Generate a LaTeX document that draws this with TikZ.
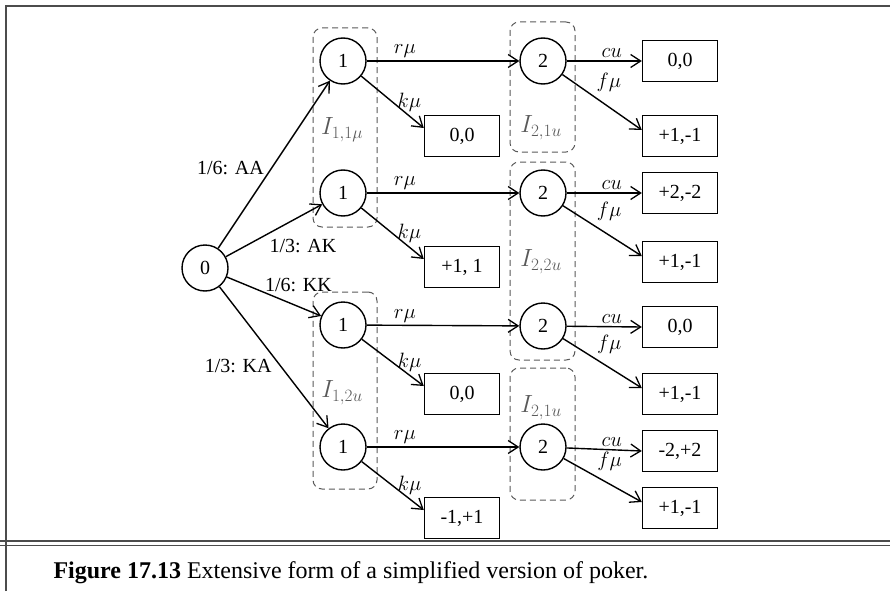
\documentclass[tikz,border=0pt]{standalone}
\usepackage{fontspec}
\setmainfont{Liberation Serif}
\usetikzlibrary{arrows.meta,positioning,calc}

\begin{document}
\begin{tikzpicture}[
  x=1pt, y=-1pt,
  every node/.style={font=\fontsize{20}{22}\selectfont},
  move/.style={circle,draw,line width=1.4pt,minimum size=46pt,inner sep=0pt},
  pay/.style={draw,line width=1.4pt,minimum width=75pt,minimum height=41pt,inner sep=0pt},
  arr/.style={-{Straight Barb[length=10pt,width=13pt,line width=1.3pt]},line width=1.4pt},
  infoset/.style={draw=black!65,dash pattern=on 6pt off 4pt,line width=1pt,rounded corners=9pt,inner sep=0pt},
  setlabel/.style={text=black!65,font=\fontsize{23}{25}\selectfont},
  frame/.style={line width=1.5pt,draw=black!70}
]
\useasboundingbox (0,0) rectangle (890,591);
\draw[frame] (6,591) -- (6,6) -- (890,6);
\draw[frame] (0,541) -- (890,541);
\draw[frame] (0,545.5) -- (890,545.5);

% information sets
\node[infoset,minimum width=64pt,minimum height=199pt] (is11) at (345,127.5) {};
\node[infoset,minimum width=64pt,minimum height=197pt] (is12) at (345,390.5) {};
\node[infoset,minimum width=65pt,minimum height=130pt] (is21) at (542.5,87) {};
\node[infoset,minimum width=65pt,minimum height=198pt] (is22) at (542.5,261) {};
\node[infoset,minimum width=65pt,minimum height=132pt] (is23) at (542.5,434) {};
\node[setlabel] at (342,130) {$I_{1,1\mu}$};
\node[setlabel] at (342,393) {$I_{1,2u}$};
\node[setlabel] at (541,128) {$I_{2,1u}$};
\node[setlabel] at (541,262) {$I_{2,2u}$};
\node[setlabel] at (541,408) {$I_{2,1u}$};

% nodes
\node[move] (n0) at (205,268) {0};
\node[move] (n1a) at (343,61) {1};
\node[move] (n1b) at (343,193) {1};
\node[move] (n1c) at (343,325) {1};
\node[move] (n1d) at (343,447) {1};
\node[move] (n2a) at (543,61) {2};
\node[move] (n2b) at (543,193) {2};
\node[move] (n2c) at (543,326) {2};
\node[move] (n2d) at (543,447) {2};

% payoffs
\node[pay] (k1) at (462,136) {0,0};
\node[pay] (k2) at (462,267) {+1, 1};
\node[pay] (k3) at (462,394) {0,0};
\node[pay] (k4) at (462,518) {-1,+1};
\node[pay] (c1) at (680,61) {0,0};
\node[pay] (f1) at (680,136) {+1,-1};
\node[pay] (c2) at (680,193) {+2,-2};
\node[pay] (f2) at (680,262) {+1,-1};
\node[pay] (c3) at (680,327) {0,0};
\node[pay] (f3) at (680,394) {+1,-1};
\node[pay] (c4) at (680,451) {-2,+2};
\node[pay] (f4) at (680,508) {+1,-1};

% chance moves
\draw[arr] (n0) -- node[pos=0.48,left=4pt] {1/6: AA} (n1a);
\draw[arr] (n0) -- node[pos=0.8,below=20pt] {1/3: AK} (n1b);
\draw[arr] (n0) -- node[pos=0.76,above=11pt] {1/6: KK} (n1c);
\draw[arr] (n0) -- node[pos=0.56,left=5pt] {1/3: KA} (n1d);

% player 1
\foreach \i/\k in {a/1,b/2,c/3,d/4}{
  \draw[arr] (n1\i) -- node[pos=0.25,above=-1pt] {$r\mu$} (n2\i);
  \draw[arr] (n1\i) -- node[midway,right=1pt] {$k\mu$} ([yshift=8pt]k\k.west);
}

% player 2
\foreach \i/\k in {a/1,b/2,c/3,d/4}{
  \draw[arr] (n2\i) -- node[pos=0.6,above=-1pt] {$cu$} (c\k.west);
  \draw[arr] (n2\i) -- node[pos=0.38,above right=0pt] {$f\mu$} ([yshift=6pt]f\k.west);
}

\node[anchor=base west,font=\fontsize{24}{26}\selectfont] (cap) at (50,578)
  {\textbf{Figure 17.13} Extensive form of a simplified version of poker.};
\end{tikzpicture}
\end{document}
